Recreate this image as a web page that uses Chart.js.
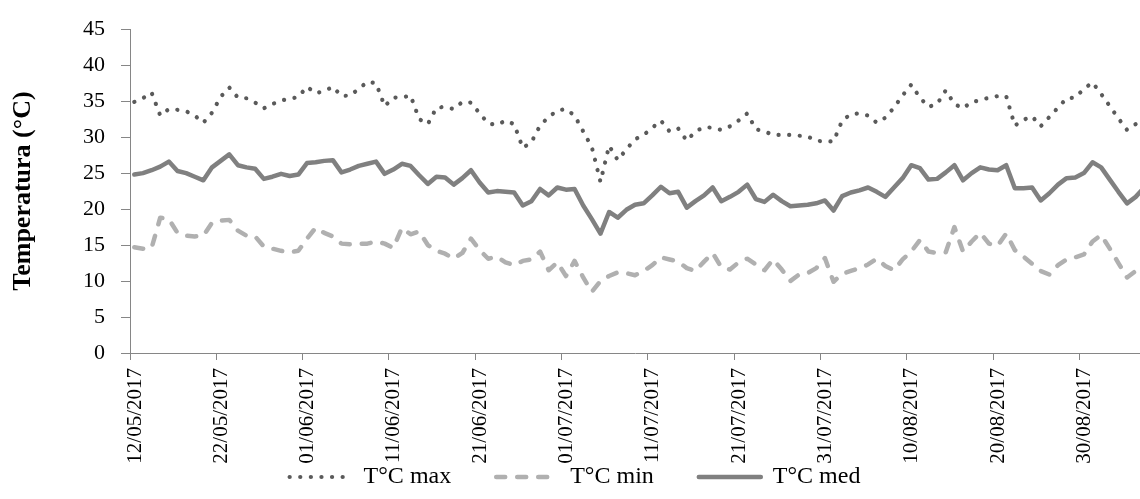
<!DOCTYPE html>
<html>
<head>
<meta charset="utf-8">
<script src="https://cdn.jsdelivr.net/npm/chart.js@4.4.0/dist/chart.umd.min.js"></script>
<style>
  html, body { margin: 0; padding: 0; background: #fff; }
  #wrap { width: 1140px; height: 499px; position: relative; }
</style>
</head>
<body>
<div id="wrap"><canvas id="chart"></canvas></div>
<script>
// one label every 10 days, starting 12/05/2017
const tickLabels = ['12/05/2017', '22/05/2017', '01/06/2017', '11/06/2017', '21/06/2017', '01/07/2017',
  '11/07/2017', '21/07/2017', '31/07/2017', '10/08/2017', '20/08/2017', '30/08/2017'];

// daily values (one per day from 12/05)
const tMax = [34.9, 35.4, 36.2, 33.0, 33.9, 33.8, 33.6, 33.0, 32.0, 33.4,
  35.6, 36.9, 35.5, 35.4, 34.8, 34.0, 34.6, 35.1, 35.3, 35.6,
  37.0, 36.1, 36.4, 37.0, 35.7, 35.8, 36.7, 37.7, 37.5, 34.3,
  35.5, 35.5, 35.8, 32.5, 31.8, 34.1, 34.2, 33.9, 34.9, 34.8,
  33.3, 31.9, 31.7, 32.3, 31.8, 28.5, 29.3, 31.6, 32.8, 33.7,
  33.9, 33.0, 30.8, 28.6, 23.8, 28.8, 26.8, 28.3, 29.7, 30.3,
  31.3, 32.3, 30.8, 31.2, 29.5, 30.8, 31.4, 31.3, 31.0, 31.5,
  32.3, 33.3, 31.1, 30.8, 30.3, 30.3, 30.3, 30.2, 30.1, 29.5,
  29.4, 29.4, 32.3, 33.2, 33.3, 33.0, 32.0, 32.7, 34.1, 35.8,
  37.3, 35.5, 34.2, 34.6, 36.5, 34.6, 34.0, 34.9, 35.1, 35.5,
  35.7, 35.7, 31.6, 32.4, 32.9, 31.5, 32.8, 34.1, 35.4, 35.5,
  36.7, 37.6, 36.0, 34.3, 32.6, 31.0, 31.8, 32.2];

const tMin = [14.7, 14.5, 14.6, 18.8, 18.6, 16.7, 16.3, 16.2, 16.3, 18.1,
  18.4, 18.5, 17.0, 16.3, 16.2, 14.8, 14.5, 14.2, 14.0, 14.2,
  15.9, 17.4, 16.7, 16.2, 15.2, 15.1, 15.2, 15.2, 15.5, 15.2,
  14.6, 17.4, 16.5, 16.9, 15.0, 14.2, 13.8, 13.1, 13.9, 15.9,
  14.3, 13.1, 13.4, 12.6, 12.2, 12.8, 13.0, 14.1, 11.5, 12.6,
  10.7, 12.8, 10.5, 8.5, 10.0, 10.7, 11.2, 11.1, 10.8, 11.4,
  12.2, 13.3, 13.0, 12.7, 11.8, 11.4, 12.7, 13.9, 11.9, 11.6,
  12.6, 13.1, 12.3, 11.5, 13.0, 11.6, 10.0, 10.9, 11.1, 11.8,
  13.2, 9.9, 11.0, 11.4, 11.8, 12.3, 13.1, 12.1, 11.5, 13.0,
  14.1, 15.7, 14.1, 13.9, 14.0, 17.5, 14.1, 15.5, 16.7, 15.2,
  14.9, 16.6, 14.3, 13.4, 12.4, 11.4, 10.9, 12.2, 13.0, 13.3,
  13.7, 15.5, 16.4, 14.5, 12.5, 10.5, 11.4, 12.3];

const tMed = [24.8, 25.0, 25.4, 25.9, 26.6, 25.3, 25.0, 24.5, 24.0, 25.8,
  26.7, 27.6, 26.1, 25.8, 25.6, 24.2, 24.5, 24.9, 24.6, 24.8,
  26.4, 26.5, 26.7, 26.8, 25.1, 25.5, 26.0, 26.3, 26.6, 24.9,
  25.5, 26.3, 26.0, 24.7, 23.5, 24.5, 24.4, 23.4, 24.3, 25.4,
  23.7, 22.3, 22.5, 22.4, 22.3, 20.5, 21.1, 22.8, 21.9, 23.0,
  22.7, 22.8, 20.5, 18.6, 16.6, 19.6, 18.8, 19.9, 20.6, 20.8,
  21.9, 23.1, 22.2, 22.4, 20.2, 21.1, 21.9, 23.0, 21.1, 21.7,
  22.4, 23.4, 21.4, 21.0, 22.0, 21.1, 20.4, 20.5, 20.6, 20.8,
  21.2, 19.8, 21.8, 22.3, 22.6, 23.0, 22.4, 21.7, 23.0, 24.3,
  26.1, 25.7, 24.1, 24.2, 25.1, 26.1, 24.0, 25.0, 25.8, 25.5,
  25.4, 26.1, 22.9, 22.9, 23.0, 21.2, 22.2, 23.4, 24.3, 24.4,
  25.0, 26.5, 25.8, 24.1, 22.4, 20.8, 21.7, 23.0];

const FONT = "'Liberation Serif', 'Times New Roman', serif";
const AXIS = '#868686';

// each day sits in the middle of its slot on the date axis
const toPoints = (arr) => arr.map((v, i) => ({ x: i + 0.5, y: v }));

// legend samples use the dataset line style (dash, width, cap)
function lineLegendLabels(chart) {
  return chart.data.datasets.map((ds, i) => ({
    text: ds.label,
    datasetIndex: i,
    hidden: false,
    fontColor: '#000',
    fillStyle: ds.borderColor,
    strokeStyle: ds.borderColor,
    lineWidth: ds.borderWidth,
    lineDash: ds.borderDash || [],
    lineCap: ds.borderCapStyle,
    pointStyle: 'line',
  }));
}

new Chart(document.getElementById('chart'), {
  type: 'line',
  data: {
    datasets: [
      {
        label: 'T°C max',
        data: toPoints(tMax),
        borderColor: '#5a5a5a',
        borderWidth: 4.2,
        borderDash: [0.1, 10.5],
        borderCapStyle: 'round',
        borderJoinStyle: 'round',
        pointRadius: 0,
        tension: 0,
        fill: false,
      },
      {
        label: 'T°C min',
        data: toPoints(tMin),
        borderColor: '#b0b0b0',
        borderWidth: 4.5,
        borderDash: [9, 12],
        borderCapStyle: 'round',
        borderJoinStyle: 'round',
        pointRadius: 0,
        tension: 0,
        fill: false,
      },
      {
        label: 'T°C med',
        data: toPoints(tMed),
        borderColor: '#808080',
        borderWidth: 4.5,
        borderCapStyle: 'round',
        borderJoinStyle: 'round',
        pointRadius: 0,
        tension: 0,
        fill: false,
      },
    ]
  },
  options: {
    responsive: true,
    maintainAspectRatio: false,
    animation: false,
    layout: {
      padding: { left: 10, top: 23, right: 0, bottom: 0 }
    },
    plugins: {
      tooltip: { enabled: false },
      legend: {
        position: 'bottom',
        labels: {
          color: '#000',
          font: { family: FONT, size: 24 },
          usePointStyle: true,
          pointStyle: 'line',
          pointStyleWidth: 62,
          padding: 45,
          generateLabels: lineLegendLabels
        }
      }
    },
    scales: {
      x: {
        type: 'linear',
        min: 0,
        max: 117,
        afterFit: (scale) => {
          scale.height = 67;
          // rotated dates hang below the axis box, don't clip them
          scale._computeLabelArea = () => null;
        },
        ticks: {
          stepSize: 10,
          includeBounds: false,
          autoSkip: false,
          maxRotation: 90,
          minRotation: 90,
          labelOffset: 5,
          padding: 8,
          color: '#000',
          font: { family: FONT, size: 21 },
          callback: (value) => tickLabels[Math.round(value / 10)] || ''
        },
        grid: {
          drawOnChartArea: false,
          drawTicks: true,
          tickLength: 7,
          color: AXIS
        },
        border: { color: AXIS, width: 1 }
      },
      y: {
        min: 0,
        max: 45,
        afterFit: (scale) => { scale.width = 120; },
        ticks: {
          stepSize: 5,
          padding: 16,
          color: '#000',
          font: { family: FONT, size: 22 }
        },
        grid: {
          drawOnChartArea: false,
          drawTicks: true,
          tickLength: 9,
          color: AXIS
        },
        border: { color: AXIS, width: 1 },
        title: {
          display: true,
          text: 'Temperatura (°C)',
          color: '#000',
          padding: 0,
          font: { family: FONT, size: 26, weight: 'bold', lineHeight: 1 }
        }
      }
    }
  }
});
</script>
</body>
</html>
